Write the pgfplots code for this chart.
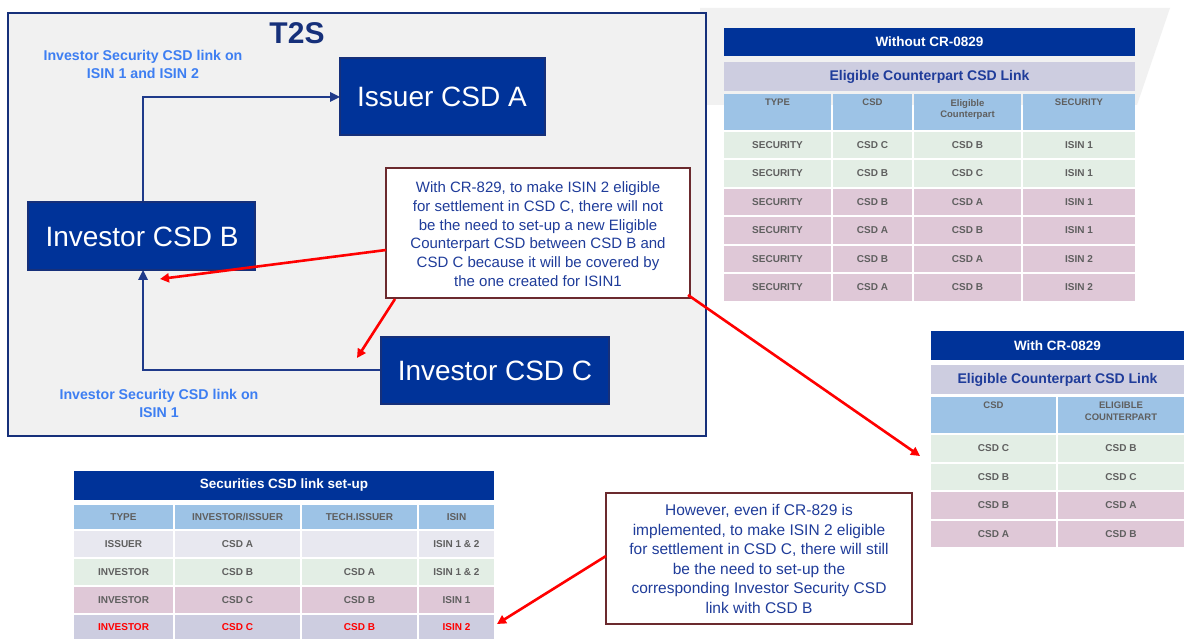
\documentclass[border=0pt]{standalone}
\usepackage{pgfplots}
\pgfplotsset{compat=1.18}
\usepackage{fontspec}
\setmainfont{Liberation Sans}
\usetikzlibrary{arrows.meta}
\definecolor{navy}{HTML}{003399}
\definecolor{navyline}{HTML}{1F3A8A}
\definecolor{frame}{HTML}{16307A}
\definecolor{lav}{HTML}{CDCDE0}
\definecolor{lavl}{HTML}{E8E8F0}
\definecolor{lblue}{HTML}{9DC3E6}
\definecolor{gr}{HTML}{E3EEE5}
\definecolor{pk}{HTML}{DFC8D7}
\definecolor{tgray}{HTML}{5F5F5F}
\definecolor{maroon}{HTML}{6B2A2E}
\definecolor{brightblue}{HTML}{3D7EF2}
\definecolor{txtblue}{HTML}{1F3C9A}
\definecolor{bg}{HTML}{F1F1F1}
% cell: x1 y1 x2 y2 fill text-style text
\newcommand{\cell}[7]{%
  \fill[#5] (#1+1,#2+1) rectangle (#3-1,#4-1);
  \node[#6] at ({(#1+#3)/2},{(#2+#4)/2}) {#7};}
\newcommand{\hcell}[7]{%
  \fill[#5] (#1+1,#2+1) rectangle (#3-1,#4-1);
  \node[#6,anchor=north] at ({(#1+#3)/2},#2+6) {#7};}
\begin{document}
\begin{tikzpicture}
\begin{axis}[width=1184pt,height=639pt,scale only axis,
  xmin=0,xmax=1184,ymin=0,ymax=639,y dir=reverse,
  axis lines=none,clip=false,xtick=\empty,ytick=\empty]
\tikzset{
  body/.style={font=\fontsize{10}{12}\selectfont\bfseries,text=tgray,inner sep=0pt},
  bodyr/.style={font=\fontsize{10}{12}\selectfont\bfseries,text=red,inner sep=0pt},
  head/.style={font=\fontsize{9.5}{11.5}\selectfont\bfseries,text=tgray,inner sep=0pt,align=center},
  ttl/.style={font=\fontsize{13.5}{16}\selectfont\bfseries,text=white,inner sep=0pt},
  sub/.style={font=\fontsize{14}{16}\selectfont\bfseries,text=txtblue,inner sep=0pt},
  redarrow/.style={draw=red,line width=2.6pt,-{Triangle[length=9pt,width=9pt]}},
  bluearrow/.style={draw=navyline,line width=2.6pt}
}
% page background
\fill[white] (0,0) rectangle (1184,639);
% background grey shape
\fill[bg] (700,8) -- (1170,8) -- (1137,105) -- (700,105) -- cycle;
% T2S frame
\draw[frame,line width=2.5pt,fill=bg] (8,13) rectangle (706,436);
\node[text=frame,inner sep=0pt,font=\fontsize{30}{32}\selectfont\bfseries] at (297,33) {T2S};
\node[text=brightblue,inner sep=0pt,align=center,font=\fontsize{14.2}{18}\selectfont\bfseries] at (143,64) {Investor Security CSD link on\\ISIN 1 and ISIN 2};
\node[text=brightblue,inner sep=0pt,align=center,font=\fontsize{14.2}{18}\selectfont\bfseries] at (159,403) {Investor Security CSD link on\\ISIN 1};
% blue connectors
\draw[bluearrow] (143,202) -- (143,97) -- (333,97);
\fill[navyline] (340,97) -- (330,92) -- (330,102) -- cycle;
\draw[bluearrow] (381,370) -- (143,370) -- (143,278);
\fill[navyline] (143,270) -- (138,280) -- (148,280) -- cycle;
% boxes
\draw[draw=frame,line width=1.5pt,fill=navy] (340,58) rectangle (545,135);
\node[text=white,inner sep=0pt] at (442,97) {\fontsize{28}{30}\selectfont Issuer CSD A};
\draw[draw=frame,line width=1.5pt,fill=navy] (28,202) rectangle (255,270);
\node[text=white,inner sep=0pt] at (142,237) {\fontsize{28}{30}\selectfont Investor CSD B};
\draw[draw=frame,line width=1.5pt,fill=navy] (381,337) rectangle (609,404);
\node[text=white,inner sep=0pt] at (495,371) {\fontsize{28}{30}\selectfont Investor CSD C};
% ---------- Without CR-0829 table ----------
\cell{723}{27}{1136}{57}{navy}{ttl}{Without CR-0829}
\cell{723}{61}{1136}{92}{lav}{sub}{Eligible Counterpart CSD Link}
\hcell{723}{93}{832}{131}{lblue}{head}{TYPE}
\hcell{832}{93}{913}{131}{lblue}{head}{CSD}
\hcell{913}{93}{1022}{131}{lblue}{head}{Eligible\\Counterpart}
\hcell{1022}{93}{1136}{131}{lblue}{head}{SECURITY}
\cell{723}{131}{832}{159}{gr}{body}{SECURITY}
\cell{832}{131}{913}{159}{gr}{body}{CSD C}
\cell{913}{131}{1022}{159}{gr}{body}{CSD B}
\cell{1022}{131}{1136}{159}{gr}{body}{ISIN 1}
\cell{723}{159}{832}{188}{gr}{body}{SECURITY}
\cell{832}{159}{913}{188}{gr}{body}{CSD B}
\cell{913}{159}{1022}{188}{gr}{body}{CSD C}
\cell{1022}{159}{1136}{188}{gr}{body}{ISIN 1}
\cell{723}{188}{832}{216}{pk}{body}{SECURITY}
\cell{832}{188}{913}{216}{pk}{body}{CSD B}
\cell{913}{188}{1022}{216}{pk}{body}{CSD A}
\cell{1022}{188}{1136}{216}{pk}{body}{ISIN 1}
\cell{723}{216}{832}{245}{pk}{body}{SECURITY}
\cell{832}{216}{913}{245}{pk}{body}{CSD A}
\cell{913}{216}{1022}{245}{pk}{body}{CSD B}
\cell{1022}{216}{1136}{245}{pk}{body}{ISIN 1}
\cell{723}{245}{832}{273}{pk}{body}{SECURITY}
\cell{832}{245}{913}{273}{pk}{body}{CSD B}
\cell{913}{245}{1022}{273}{pk}{body}{CSD A}
\cell{1022}{245}{1136}{273}{pk}{body}{ISIN 2}
\cell{723}{273}{832}{302}{pk}{body}{SECURITY}
\cell{832}{273}{913}{302}{pk}{body}{CSD A}
\cell{913}{273}{1022}{302}{pk}{body}{CSD B}
\cell{1022}{273}{1136}{302}{pk}{body}{ISIN 2}
% ---------- With CR-0829 table ----------
\cell{930}{330}{1185}{361}{navy}{ttl}{With CR-0829}
\cell{930}{364}{1185}{395}{lav}{sub}{Eligible Counterpart CSD Link}
\hcell{930}{396}{1057}{434}{lblue}{head}{CSD}
\hcell{1057}{396}{1185}{434}{lblue}{head}{ELIGIBLE\\COUNTERPART}
\cell{930}{434}{1057}{463}{gr}{body}{CSD C}
\cell{1057}{434}{1185}{463}{gr}{body}{CSD B}
\cell{930}{463}{1057}{491}{gr}{body}{CSD B}
\cell{1057}{463}{1185}{491}{gr}{body}{CSD C}
\cell{930}{491}{1057}{520}{pk}{body}{CSD B}
\cell{1057}{491}{1185}{520}{pk}{body}{CSD A}
\cell{930}{520}{1057}{548}{pk}{body}{CSD A}
\cell{1057}{520}{1185}{548}{pk}{body}{CSD B}
% ---------- Securities CSD link set-up ----------
\cell{73}{470}{495}{501}{navy}{ttl}{Securities CSD link set-up}
\cell{73}{504}{174}{530}{lblue}{body}{TYPE}
\cell{174}{504}{301}{530}{lblue}{body}{INVESTOR/ISSUER}
\cell{301}{504}{418}{530}{lblue}{body}{TECH.ISSUER}
\cell{418}{504}{495}{530}{lblue}{body}{ISIN}
\cell{73}{530}{174}{558}{lavl}{body}{ISSUER}
\cell{174}{530}{301}{558}{lavl}{body}{CSD A}
\cell{301}{530}{418}{558}{lavl}{body}{}
\cell{418}{530}{495}{558}{lavl}{body}{ISIN 1 \& 2}
\cell{73}{558}{174}{586}{gr}{body}{INVESTOR}
\cell{174}{558}{301}{586}{gr}{body}{CSD B}
\cell{301}{558}{418}{586}{gr}{body}{CSD A}
\cell{418}{558}{495}{586}{gr}{body}{ISIN 1 \& 2}
\cell{73}{586}{174}{614}{pk}{body}{INVESTOR}
\cell{174}{586}{301}{614}{pk}{body}{CSD C}
\cell{301}{586}{418}{614}{pk}{body}{CSD B}
\cell{418}{586}{495}{614}{pk}{body}{ISIN 1}
\cell{73}{614}{174}{640}{lav}{bodyr}{INVESTOR}
\cell{174}{614}{301}{640}{lav}{bodyr}{CSD C}
\cell{301}{614}{418}{640}{lav}{bodyr}{CSD B}
\cell{418}{614}{495}{640}{lav}{bodyr}{ISIN 2}
% ---------- callouts ----------
\draw[maroon,line width=2.5pt,fill=white] (386,168) rectangle (690,298);
\node[text=txtblue,inner sep=0pt,align=center,font=\fontsize{15}{18.7}\selectfont] at (538,234)
  {With CR-829, to make ISIN 2 eligible\\for settlement in CSD C, there will not\\be the need to set-up a new Eligible\\Counterpart CSD between CSD B and\\CSD C because it will be covered by\\the one created for ISIN1};
\draw[maroon,line width=2.5pt,fill=white] (606,493) rectangle (912,624);
\node[text=txtblue,inner sep=0pt,align=center,font=\fontsize{15.5}{19.5}\selectfont] at (759,559)
  {However, even if CR-829 is\\implemented, to make ISIN 2 eligible\\for settlement in CSD C, there will still\\be the need to set-up the\\corresponding Investor Security CSD\\link with CSD B};
% red arrows
\draw[redarrow] (386,250) -- (160,279);
\draw[redarrow] (395,299) -- (357,358);
\draw[redarrow] (688,295) -- (920,456);
\draw[redarrow] (606,556) -- (497,624);
\end{axis}
\end{tikzpicture}
\end{document}
